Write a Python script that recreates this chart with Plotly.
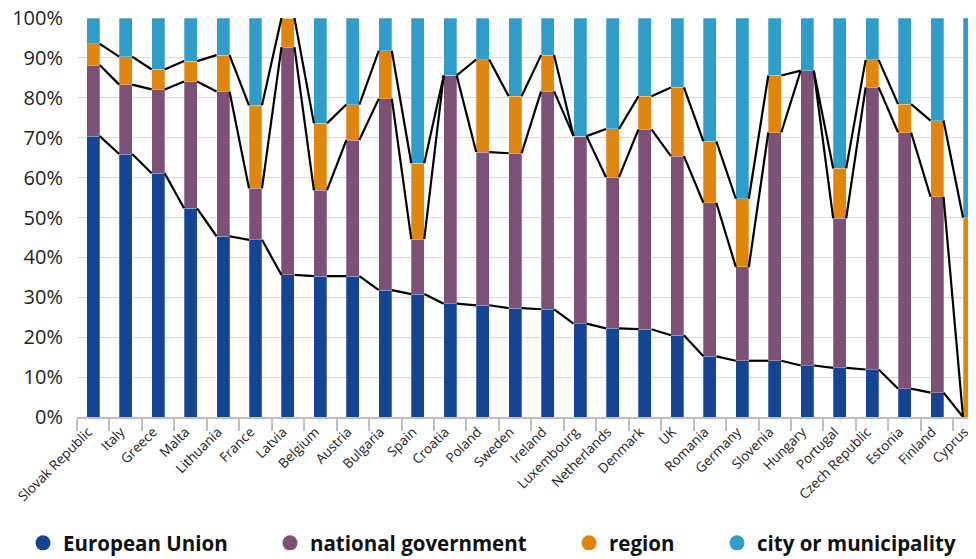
import plotly.graph_objects as go

countries = ["Slovak Republic", "Italy", "Greece", "Malta", "Lithuania", "France", "Latvia",
             "Belgium", "Austria", "Bulgaria", "Spain", "Croatia", "Poland", "Sweden", "Ireland",
             "Luxembourg", "Netherlands", "Denmark", "UK", "Romania", "Germany", "Slovenia",
             "Hungary", "Portugal", "Czech Republic", "Estonia", "Finland", "Cyprus"]

european_union = [70.4, 65.9, 61.1, 52.3, 45.3, 44.4, 35.6, 35.3, 35.3, 31.8, 30.8, 28.4, 28.0, 27.3,
                  27.0, 23.4, 22.2, 22.0, 20.5, 15.2, 14.1, 14.1, 12.9, 12.3, 11.9, 7.1, 6.1, 0.0]
national_government = [17.8, 17.4, 21.0, 31.8, 36.3, 12.9, 57.1, 21.5, 34.1, 48.0, 13.8, 57.2, 38.4, 38.8,
                       54.6, 47.0, 37.9, 50.1, 44.9, 38.5, 23.5, 57.2, 73.9, 37.5, 70.7, 64.2, 49.1, 0.0]
region = [5.3, 7.0, 5.0, 5.1, 9.1, 20.8, 7.3, 16.8, 8.9, 12.0, 19.0, 0.0, 23.2, 14.3,
          9.1, 0.0, 12.1, 8.3, 17.2, 15.4, 17.1, 14.3, 0.0, 12.5, 6.9, 7.1, 19.1, 50.0]
city_or_municipality = [6.5, 9.7, 12.9, 10.8, 9.3, 21.9, 0.0, 26.4, 21.7, 8.2, 36.4, 14.4, 10.4, 19.6,
                        9.3, 29.6, 27.8, 19.6, 17.4, 30.9, 45.3, 14.4, 13.2, 37.7, 10.5, 21.6, 25.7, 50.0]

series_names = ["European Union", "national government", "region", "city or municipality"]
colors = ["#164494", "#7d5076", "#e0850e", "#2f9dc8"]
y_ticks = list(range(0, 101, 10))

series = [european_union, national_government, region, city_or_municipality]
n = len(countries)
idx = list(range(n))
bar_w = 0.4

# the page places the figure 8px from the top-left corner, so the figure is 8px smaller
FIG_W, FIG_H = 968, 551

fig = go.Figure()
for vals, col in zip(series, colors):
    fig.add_trace(go.Bar(x=idx, y=vals, width=bar_w,
                         marker=dict(color=col, line=dict(width=0.6, color="rgba(255,255,255,0.45)")),
                         showlegend=False, hoverinfo="skip"))

# series lines connecting cumulative tops between neighbouring bars
cum = [0.0] * n
for vals in series[:3]:
    cum = [c + v for c, v in zip(cum, vals)]
    xs, ys = [], []
    for i in range(n - 1):
        xs += [i + bar_w / 2, i + 1 - bar_w / 2, None]
        ys += [cum[i], cum[i + 1], None]
    fig.add_trace(go.Scatter(x=xs, y=ys, mode="lines", line=dict(color="black", width=2.2),
                             showlegend=False, hoverinfo="skip"))

# legend entries (circle markers), each in its own legend box
legend_x = [15, 262, 561, 709]
for k, (name, col) in enumerate(zip(series_names, colors)):
    lg = "legend" if k == 0 else f"legend{k+1}"
    fig.add_trace(go.Scatter(x=[None], y=[None], mode="markers", name=name,
                             marker=dict(color=col, size=15, symbol="circle"), legend=lg))

layout_legends = {}
for k, lx in enumerate(legend_x):
    lg = "legend" if k == 0 else f"legend{k+1}"
    layout_legends[lg] = dict(xref="container", yref="container", x=lx / FIG_W, y=1 - 535 / FIG_H,
                              xanchor="left", yanchor="middle", orientation="h",
                              bgcolor="rgba(0,0,0,0)",
                              font=dict(family="Open Sans", size=20.5, color="#111111", weight="bold"))

fig.update_layout(
    width=FIG_W, height=FIG_H,
    margin=dict(l=69, r=0, t=10, b=142),
    barmode="stack",
    plot_bgcolor="white", paper_bgcolor="white",
    font=dict(family="Open Sans", color="#231f20"),
    **layout_legends,
)
fig.update_xaxes(
    range=[-0.5, n - 1 + bar_w / 2], automargin=False,
    tickmode="array", tickvals=idx, ticktext=countries, tickangle=-45,
    ticks="", tickfont=dict(size=13.5, color="#222222"), ticklabeloverflow="allow",
    ticklabelshift=-5,
    showgrid=False, zeroline=False, showline=True, linecolor="#bfbfbf", linewidth=1.5,
    minor=dict(tickmode="array", tickvals=[i - 0.5 for i in range(n + 1)], ticks="outside",
               ticklen=12, tickwidth=1.5, tickcolor="#bfbfbf", showgrid=False),
)
fig.update_yaxes(
    range=[0, 100], automargin=False,
    tickmode="array", tickvals=y_ticks, ticktext=[f"{v}%" for v in y_ticks],
    ticks="", tickfont=dict(size=20, color="#231f20"), ticklabeloverflow="allow",
    showgrid=True, gridcolor="#d9d9d9", gridwidth=1.2, zeroline=False, showline=False,
    ticklabelstandoff=13,
)

fig.write_html("out.html")
